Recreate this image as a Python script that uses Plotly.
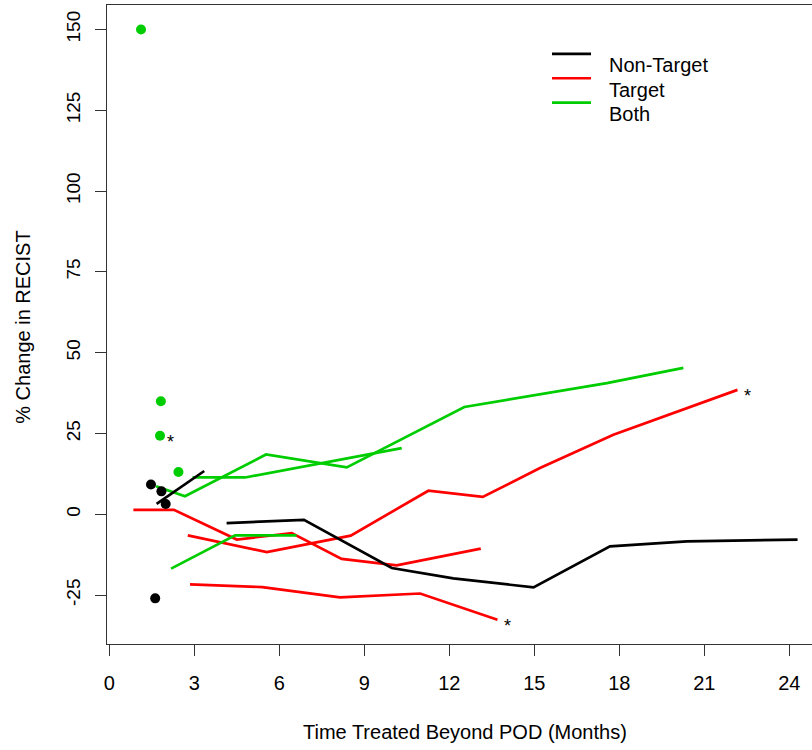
import plotly.graph_objects as go

# ---- data ----
nt_dot_x = [1.47, 1.84, 1.99, 1.62]
nt_dot_y = [9.2, 7.1, 3.2, -26.0]
both_dot_x = [1.12, 1.82, 1.79, 2.44]
both_dot_y = [150.0, 35.0, 24.3, 13.1]

nt1_x = [1.67, 3.35]
nt1_y = [3.2, 13.4]
nt2_x = [4.14, 6.87, 9.97, 12.14, 14.97, 17.67, 20.38, 24.29]
nt2_y = [-2.7, -1.7, -16.6, -19.8, -22.6, -9.9, -8.4, -7.8]

t1_x = [0.85, 2.28, 4.50, 6.44, 8.20, 10.14, 13.11]
t1_y = [1.4, 1.4, -7.8, -5.8, -13.8, -15.8, -10.6]
t2_x = [2.77, 5.56, 8.52, 11.26, 13.18, 15.2, 17.79, 22.17]
t2_y = [-6.5, -11.7, -6.6, 7.3, 5.4, 14.3, 24.6, 38.5]
t3_x = [2.85, 5.40, 8.14, 10.97, 13.70]
t3_y = [-21.7, -22.5, -25.7, -24.5, -32.6]

b1_x = [1.65, 2.67, 5.53, 8.38, 12.53, 17.56, 20.26]
b1_y = [8.7, 5.6, 18.5, 14.5, 33.2, 40.6, 45.3]
b2_x = [2.94, 4.79, 10.32]
b2_y = [11.4, 11.4, 20.5]
b3_x = [2.18, 4.44, 6.61]
b3_y = [-16.8, -6.5, -6.5]

x_ticks = [0, 3, 6, 9, 12, 15, 18, 21, 24]
y_ticks = [-25, 0, 25, 50, 75, 100, 125, 150]
legend_labels = ["Non-Target", "Target", "Both"]

BLACK = "#000000"
RED = "#FF0000"
GREEN = "#00CD00"
FONT = "Liberation Sans, Arial, sans-serif"

fig = go.Figure()

def add_line(xs, ys, color):
    fig.add_trace(go.Scatter(x=xs, y=ys, mode="lines",
                             line=dict(color=color, width=2.7),
                             showlegend=False, hoverinfo="skip"))

for xs, ys in [(t1_x, t1_y), (t2_x, t2_y), (t3_x, t3_y)]:
    add_line(xs, ys, RED)
for xs, ys in [(b1_x, b1_y), (b2_x, b2_y), (b3_x, b3_y)]:
    add_line(xs, ys, GREEN)
for xs, ys in [(nt1_x, nt1_y), (nt2_x, nt2_y)]:
    add_line(xs, ys, BLACK)

fig.add_trace(go.Scatter(x=both_dot_x, y=both_dot_y, mode="markers",
                         marker=dict(color=GREEN, size=10), showlegend=False))
fig.add_trace(go.Scatter(x=nt_dot_x, y=nt_dot_y, mode="markers",
                         marker=dict(color=BLACK, size=10), showlegend=False))

# asterisks next to selected points
star_pts = [(both_dot_x[2], both_dot_y[2]), (t2_x[-1], t2_y[-1]), (t3_x[-1], t3_y[-1])]
for sx, sy in star_pts:
    fig.add_annotation(x=sx, y=sy, text="*", showarrow=False, xref="x", yref="y",
                       xanchor="center", yanchor="middle", xshift=10, yshift=-6,
                       font=dict(family=FONT, size=18, color="#000"))

# legend drawn manually
L = 107; T = 5; W = 705; H = 639.5
def px(xp):
    return (xp - L) / W
def py(yp):
    return (T + H - yp) / H
leg_colors = [BLACK, RED, GREEN]
line_y = [54, 78.3, 102.7]
text_y = [65, 90, 114]
for lab, col, ly, ty in zip(legend_labels, leg_colors, line_y, text_y):
    fig.add_shape(type="line", xref="paper", yref="paper",
                  x0=px(552), x1=px(591), y0=py(ly), y1=py(ly),
                  line=dict(color=col, width=2.7))
    fig.add_annotation(x=px(607), y=py(ty), xref="paper", yref="paper",
                       text=lab, showarrow=False, xanchor="left", yanchor="middle",
                       font=dict(family=FONT, size=20, color="#000"))

# axis titles
fig.add_annotation(x=px(465), y=py(733), xref="paper", yref="paper",
                   text="Time Treated Beyond POD (Months)", showarrow=False,
                   xanchor="center", yanchor="middle",
                   font=dict(family=FONT, size=20, color="#000"))
fig.add_annotation(x=px(23), y=py(328), xref="paper", yref="paper",
                   text="% Change in RECIST", showarrow=False, textangle=-90,
                   xanchor="center", yanchor="middle",
                   font=dict(family=FONT, size=20, color="#000"))

fig.update_layout(
    width=812, height=750,
    margin=dict(l=L, r=0, t=T, b=750 - T - H),
    plot_bgcolor="white", paper_bgcolor="white",
    showlegend=False,
    font=dict(family=FONT, size=19, color="#000"),
)
fig.update_xaxes(range=[-0.081, 24.80], tickvals=x_ticks, ticktext=[str(v) for v in x_ticks],
                 showgrid=False, zeroline=False, showline=True, mirror=True,
                 linecolor="#333", linewidth=1.3, ticks="outside", ticklen=11,
                 tickcolor="#333", tickwidth=1.3, ticklabelstandoff=10,
                 tickfont=dict(family=FONT, size=20, color="#000"))
fig.update_yaxes(range=[-40.12, 157.56], tickvals=y_ticks, ticktext=[str(v) for v in y_ticks],
                 showgrid=False, zeroline=False, showline=True, mirror=False,
                 linecolor="#333", linewidth=1.3, ticks="outside", ticklen=11,
                 tickcolor="#333", tickwidth=1.3, tickangle=-90, ticklabelstandoff=7,
                 tickfont=dict(family=FONT, size=19, color="#000"))

fig.write_html("out.html")
